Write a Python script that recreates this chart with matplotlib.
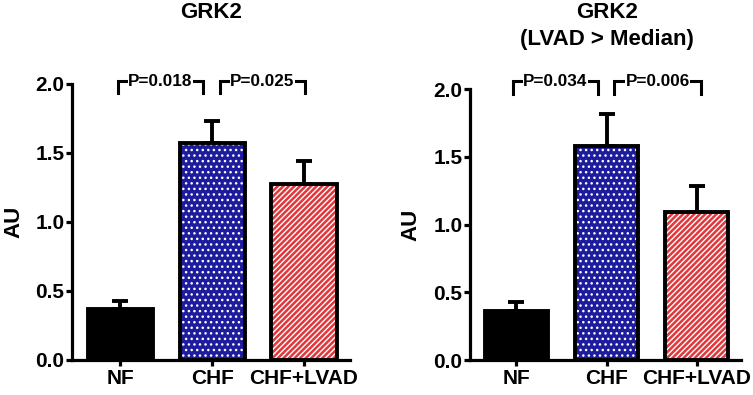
import matplotlib
matplotlib.use("Agg")
import matplotlib.pyplot as plt

plt.rcParams['font.family'] = ['Liberation Sans', 'DejaVu Sans']
plt.rcParams['font.weight'] = 'bold'
plt.rcParams['hatch.linewidth'] = 1.0

categories = ["NF", "CHF", "CHF+LVAD"]
means_all = [0.364, 1.567, 1.27]
errs_all = [0.06, 0.165, 0.17]
means_med = [0.364, 1.58, 1.094]
errs_med = [0.062, 0.235, 0.19]
pvals_all = ["P=0.018", "P=0.025"]
pvals_med = ["P=0.034", "P=0.006"]
yticks = [0.0, 0.5, 1.0, 1.5, 2.0]

face = ["black", "#1c1c9c", "#e0383c"]
hatches = [None, "...", "//////"]

fig = plt.figure(figsize=(7.53, 3.95), dpi=100)

def panel(rect, means, errs, pvals, xlim, width, br, titles, title_x, ylab_x):
    ax = fig.add_axes(rect)
    x = range(len(categories))
    for i in x:
        ax.bar(i, means[i], width=width, color=face[i], edgecolor="white" if hatches[i] else face[i],
               hatch=hatches[i], linewidth=0, zorder=2)
    ax.bar(list(x), means, width=width, facecolor="none", edgecolor="black", linewidth=2.8, zorder=3)
    ax.errorbar(list(x), means, yerr=[[0]*3, errs], fmt="none", ecolor="black",
                elinewidth=2.8, capsize=6, capthick=2.8, zorder=1)
    ax.set_xlim(*xlim)
    ax.set_ylim(0, 2.0)
    ax.set_yticks(yticks)
    ax.set_yticklabels([f"{t:.1f}" for t in yticks], fontsize=15, fontweight="bold")
    ax.set_xticks(list(x))
    ax.set_xticklabels(categories, fontsize=15, fontweight="bold")
    for s in ["top", "right"]:
        ax.spines[s].set_visible(False)
    for s in ["left", "bottom"]:
        ax.spines[s].set_linewidth(2.3)
    ax.tick_params(axis="y", width=2.3, length=4.5, pad=1)
    ax.tick_params(axis="x", width=2.3, length=4.5, pad=2)
    (ytop, ybot), segs = br
    for (x0, x1), p in zip(segs, pvals):
        ax.plot([x0, x0, x1, x1], [ybot, ytop, ytop, ybot], color="black", lw=2.2,
                clip_on=False, solid_joinstyle="miter", zorder=4)
        ax.text((x0 + x1) / 2, ytop, p, ha="center", va="center", fontsize=12.3,
                fontweight="bold", zorder=5, clip_on=False,
                bbox=dict(facecolor="white", edgecolor="none", pad=0.3))
    for t, yy in titles:
        fig.text(title_x, yy, t, ha="center", va="center", fontsize=16, fontweight="bold")
    fig.text(ylab_x, (rect[1] + rect[3] / 2), "AU", rotation=90, ha="center", va="center",
             fontsize=16, fontweight="bold")
    return ax

panel([72/753, (395-359.5)/395, 278/753, 275.8/395], means_all, errs_all, pvals_all,
      (-0.525, 2.5), 0.71,
      ((2.018, 1.93), [(-0.025, 0.90), (1.083, 2.007)]),
      [("GRK2", 1 - 12/395)], 211/753, 14/753)

panel([470/753, (395-360)/395, 271/753, 270.7/395], means_med, errs_med, pvals_med,
      (-0.513, 2.49), 0.70,
      ((2.06, 1.966), [(-0.04, 0.905), (1.08, 2.05)]),
      [("GRK2", 1 - 12/395), ("(LVAD > Median)", 1 - 39/395)], 607/753, 411/753)

fig.savefig("out.png", dpi=100)
